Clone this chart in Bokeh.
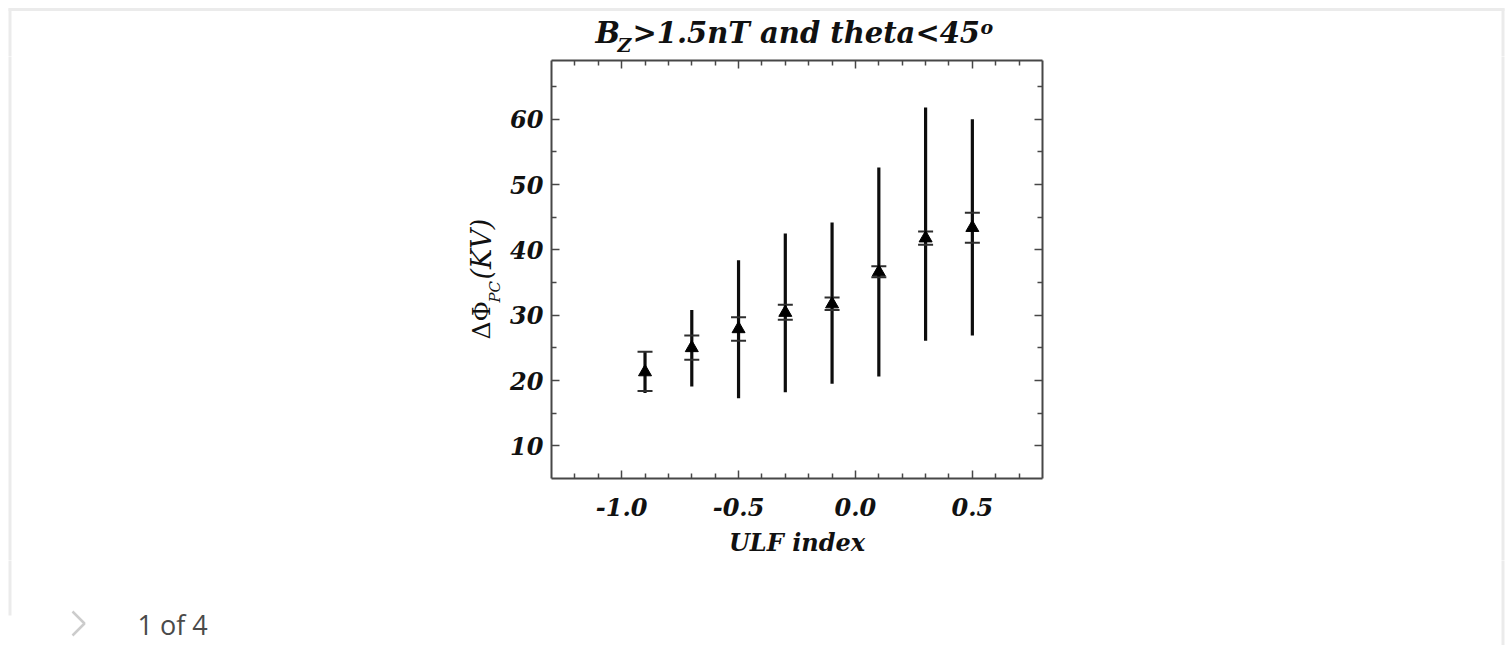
import math
from bokeh.plotting import figure
from bokeh.layouts import column, row
from bokeh.models import Range1d, LinearAxis, FixedTicker, Label
from bokeh.models import ColumnDataSource
from bokeh.embed import file_html
from bokeh.resources import INLINE

# ---------------- data ----------------
ulf_index = [-0.9, -0.7, -0.5, -0.3, -0.1, 0.1, 0.3, 0.5]
dphi_mean = [21.3, 25.0, 27.9, 30.4, 31.7, 36.6, 41.8, 43.4]
se_upper = [24.4, 26.9, 29.7, 31.6, 32.7, 37.5, 42.8, 45.7]
se_lower = [18.4, 23.2, 26.1, 29.3, 30.8, 35.8, 40.8, 41.1]
sd_upper = [24.5, 30.8, 38.4, 42.5, 44.2, 52.6, 61.8, 60.0]
sd_lower = [18.1, 19.1, 17.3, 18.2, 19.5, 20.6, 26.1, 26.9]

x_ticks = [-1.0, -0.5, 0.0, 0.5]
x_tick_labels = ["-1.0", "-0.5", "0.0", "0.5"]
x_minor_ticks = [-1.2, -1.1, -0.9, -0.8, -0.7, -0.6, -0.4, -0.3, -0.2, -0.1,
                 0.1, 0.2, 0.3, 0.4, 0.6, 0.7]
y_ticks = [10, 20, 30, 40, 50, 60]
y_tick_labels = ["10", "20", "30", "40", "50", "60"]
y_minor_ticks = [15, 25, 35, 45, 55, 65]

x_lo, x_hi = -1.3, 0.8
y_lo, y_hi = 5.0, 69.0

title_parts = ["B", "Z", ">1.5nT and theta<45", "o"]
ylabel_parts = ["ΔΦ", "PC", "(KV)"]
xlabel_text = "ULF index"
caption_text = "1 of 4"

# ---------------- page geometry (pixels) ----------------
W, H = 1510, 645
FL, FR, FT, FB = 551, 1042, 60, 478          # plot frame in the page
MB_L, MB_R, MB_T, MB_B = 44, 6, 4, 82         # main figure borders
MAIN_X0 = FL - MB_L
MAIN_Y0 = FT - MB_T
MAIN_W = MB_L + (FR - FL) + MB_R
MAIN_H = MB_T + (FB - FT) + MB_B
BOT_Y0 = MAIN_Y0 + MAIN_H

SERIF = "DejaVu Serif"
AXC = "#474747"
INK = "#111111"
FRAME_GREY = "#ebebeb"

# ---------------- main plot ----------------
p = figure(width=MAIN_W, height=MAIN_H, x_range=Range1d(x_lo, x_hi),
           y_range=Range1d(y_lo, y_hi), output_backend="svg", toolbar_location=None,
           min_border_left=MB_L, min_border_right=MB_R,
           min_border_top=MB_T, min_border_bottom=MB_B, frame_align=False)
p.title.visible = False
p.outline_line_color = None
p.xgrid.visible = False
p.ygrid.visible = False
p.background_fill_color = "white"
p.border_fill_color = "white"


def style_axis(ax, ticks, minor, overrides, show_labels, standoff):
    ax.ticker = FixedTicker(ticks=ticks, minor_ticks=minor)
    ax.axis_line_color = AXC
    ax.axis_line_width = 2
    ax.major_tick_in = 8
    ax.major_tick_out = 0
    ax.minor_tick_in = 5
    ax.minor_tick_out = 0
    ax.major_tick_line_color = AXC
    ax.minor_tick_line_color = AXC
    ax.major_tick_line_width = 1.5
    ax.minor_tick_line_width = 1.5
    ax.major_label_overrides = overrides
    ax.major_label_standoff = standoff
    if show_labels:
        ax.major_label_text_font = SERIF
        ax.major_label_text_font_style = "bold italic"
        ax.major_label_text_font_size = "24px"
        ax.major_label_text_color = INK
    else:
        ax.major_label_text_font_size = "0px"
        ax.major_label_text_alpha = 0


x_over = {t: s for t, s in zip(x_ticks, x_tick_labels)}
y_over = {t: s for t, s in zip(y_ticks, y_tick_labels)}

style_axis(p.xaxis[0], x_ticks, x_minor_ticks, x_over, True, 19)
style_axis(p.yaxis[0], y_ticks, y_minor_ticks, y_over, True, 8)
p.xaxis[0].axis_label = xlabel_text
p.xaxis[0].axis_label_text_font = SERIF
p.xaxis[0].axis_label_text_font_style = "bold italic"
p.xaxis[0].axis_label_text_font_size = "24px"
p.xaxis[0].axis_label_text_color = INK
p.xaxis[0].axis_label_standoff = 9

top_ax = LinearAxis()
style_axis(top_ax, x_ticks, x_minor_ticks, x_over, False, 0)
p.add_layout(top_ax, "above")
right_ax = LinearAxis()
style_axis(right_ax, y_ticks, y_minor_ticks, y_over, False, 0)
p.add_layout(right_ax, "right")

src = ColumnDataSource(dict(x=ulf_index, mean=dphi_mean, se_hi=se_upper, se_lo=se_lower,
                            sd_hi=sd_upper, sd_lo=sd_lower))
p.segment(x0="x", y0="sd_lo", x1="x", y1="sd_hi", source=src, line_width=3.2,
          line_color="#0d0d0d")
p.scatter(x="x", y="se_hi", source=src, marker="dash", size=15, line_width=2,
          line_color="#2e2e2e")
p.scatter(x="x", y="se_lo", source=src, marker="dash", size=15, line_width=2,
          line_color="#2e2e2e")
p.scatter(x="x", y="mean", source=src, marker="triangle", size=13,
          fill_color="black", line_color="black")


# ---------------- text panels around the plot ----------------
MID = 0.345   # distance (in em) from the text's middle to its baseline


class Panel:
    def __init__(self, ox, oy, w, h):
        self.ox, self.oy, self.w, self.h = ox, oy, w, h
        f = figure(width=w, height=h, x_range=Range1d(0, w), y_range=Range1d(0, h),
                   output_backend="svg", toolbar_location=None, min_border=0,
                   x_axis_type=None, y_axis_type=None, frame_align=False)
        f.title.visible = False
        f.outline_line_color = None
        f.background_fill_color = "white"
        f.border_fill_color = "white"
        self.fig = f

    def lx(self, px):
        return px - self.ox

    def ly(self, py):
        return self.h - (py - self.oy)

    def label(self, text, px, py, size, style="bold italic", font=SERIF, color=INK,
              align="left", rotated=False):
        # (px, py) is the baseline anchor in page pixels
        if rotated:
            ax, ay, angle = px - MID * size, py, math.pi / 2
        else:
            ax, ay, angle = px, py - MID * size, 0.0
        self.fig.add_layout(Label(x=self.lx(ax), y=self.ly(ay), text=text,
                                  text_font=font, text_font_size=f"{size}px",
                                  text_font_style=style, text_color=color,
                                  text_align=align, text_baseline="middle",
                                  angle=angle))

    def page_frame(self):
        # light grey page frame: top, left and right edges (clipped to this panel)
        self.fig.segment(x0=[self.lx(8), self.lx(9.5), self.lx(1502.5)],
                         y0=[self.ly(9), self.ly(8), self.ly(8)],
                         x1=[self.lx(1504), self.lx(9.5), self.lx(1502.5)],
                         y1=[self.ly(9), self.ly(615), self.ly(700)],
                         line_color=FRAME_GREY, line_width=3)


top = Panel(0, 0, W, MAIN_Y0)
left = Panel(0, MAIN_Y0, MAIN_X0, MAIN_H)
right = Panel(MAIN_X0 + MAIN_W, MAIN_Y0, W - MAIN_X0 - MAIN_W, MAIN_H)
bottom = Panel(0, BOT_Y0, W, H - BOT_Y0)
for pan in (top, left, right, bottom):
    pan.page_frame()

# title: B_Z>1.5nT and theta<45^o
top.label(title_parts[0], 595, 43, 29)
top.label(title_parts[1], 617, 51, 19)
top.label(title_parts[2], 632, 43, 29)
top.label(title_parts[3], 980, 33, 19)

# y-axis title: ΔΦ_PC (KV), rotated (reads bottom to top)
left.label(ylabel_parts[0], 490, 339, 25, style="normal", rotated=True)
left.label(ylabel_parts[1], 500, 302, 15, style="italic", rotated=True)
left.label(ylabel_parts[2], 490, 279, 27, style="italic", rotated=True)

# carousel caption with its chevron icon
bottom.fig.line(x=[bottom.lx(72), bottom.lx(84), bottom.lx(72)],
                y=[bottom.ly(611), bottom.ly(623), bottom.ly(635)],
                line_color="#cccccc", line_width=2.5)
bottom.label(caption_text, 137, 633, 27, style="normal", font="Open Sans",
             color="#4a4a4a")

page = column(top.fig, row(left.fig, p, right.fig), bottom.fig)
open("out.html", "w").write(file_html(page, INLINE))
